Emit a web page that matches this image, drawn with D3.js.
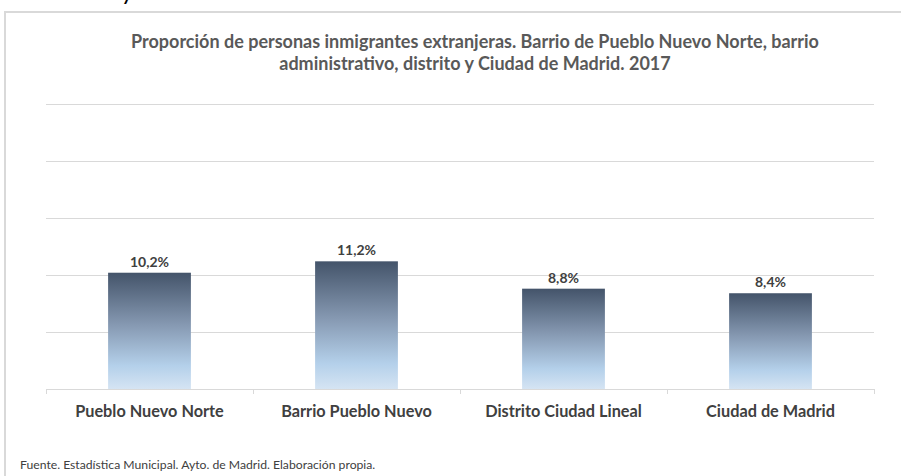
<!DOCTYPE html>
<html>
<head>
<meta charset="utf-8">
<script src="https://cdn.jsdelivr.net/npm/d3@7"></script>
<style>
  html, body { margin: 0; padding: 0; background: #fff; }
  svg { display: block; }
</style>
</head>
<body>
<svg id="chart" width="901" height="476"></svg>
<script>
const categories = ["Pueblo Nuevo Norte", "Barrio Pueblo Nuevo", "Distrito Ciudad Lineal", "Ciudad de Madrid"];
const values = [10.2, 11.2, 8.8, 8.4];
const valueLabels = ["10,2%", "11,2%", "8,8%", "8,4%"];
const yTicks = [0, 5, 10, 15, 20, 25];
const titleLines = ["Proporción de personas inmigrantes extranjeras. Barrio de Pueblo Nuevo Norte, barrio",
                    "administrativo, distrito y Ciudad de Madrid. 2017"];
const sourceText = "Fuente. Estadística Municipal. Ayto. de Madrid. Elaboración propia.";
const topClippedText = "ados en mayor tamaño en este barrio";

(function () {
const svg = d3.select("#chart");
const font = "Lato, 'Open Sans', sans-serif";

const pLeft = 46, pRight = 874, pTop = 104, pBottom = 389;
const x = d3.scaleBand().domain(categories).range([pLeft, pRight]).padding(0);
const y = d3.scaleLinear().domain([0, 25]).range([pBottom, pTop]);
const barW = x.bandwidth() * 0.4;

// text of the page above the chart, cut by the window's top edge
svg.append("text").attr("x", 2).attr("y", -0.5).attr("font-family", font)
  .attr("font-size", 24).attr("fill", "#000").text(topClippedText);

// frame
svg.append("rect").attr("x", 5).attr("y", 12).attr("width", 1000).attr("height", 600)
  .attr("fill", "#fff").attr("stroke", "#d9d9d9").attr("stroke-width", 2);

// gradient
const defs = svg.append("defs");
const grad = defs.append("linearGradient").attr("id", "barGrad")
  .attr("x1", 0).attr("y1", 0).attr("x2", 0).attr("y2", 1);
[[0, "#44546a"], [0.45, "#8699b2"], [0.8, "#b4d0ea"], [1, "#d5e4f3"]].forEach(([o, c]) =>
  grad.append("stop").attr("offset", o).attr("stop-color", c));

// gridlines
svg.append("g").selectAll("line").data(yTicks.filter(d => d > 0)).join("line")
  .attr("x1", pLeft).attr("x2", pRight)
  .attr("y1", d => Math.round(y(d)) + 0.5).attr("y2", d => Math.round(y(d)) + 0.5)
  .attr("stroke", "#d9d9d9").attr("stroke-width", 1);

// bars
svg.append("g").selectAll("rect").data(values).join("rect")
  .attr("x", (d, i) => x(categories[i]) + (x.bandwidth() - barW) / 2)
  .attr("y", d => y(d))
  .attr("width", barW)
  .attr("height", d => y(0) - y(d))
  .attr("fill", "url(#barGrad)");

// x axis
const xAxis = d3.axisBottom(x).tickSize(0).tickFormat("");
const ax = svg.append("g").attr("transform", `translate(0,${pBottom})`).call(xAxis);
ax.select(".domain").attr("stroke", "#d9d9d9");
const bounds = [pLeft].concat(categories.map(c => x(c) + x.bandwidth()));
svg.append("g").selectAll("line").data(bounds).join("line")
  .attr("x1", d => Math.round(d) + 0.5).attr("x2", d => Math.round(d) + 0.5)
  .attr("y1", pBottom).attr("y2", pBottom + 5)
  .attr("stroke", "#d9d9d9");

// category labels
svg.append("g").selectAll("text").data(categories).join("text")
  .attr("x", d => x(d) + x.bandwidth() / 2).attr("y", 417)
  .attr("text-anchor", "middle").attr("font-family", font).attr("font-weight", "bold")
  .attr("font-size", 16.3).attr("fill", "#404040").text(d => d);

// value labels
svg.append("g").selectAll("text").data(values).join("text")
  .attr("x", (d, i) => x(categories[i]) + x.bandwidth() / 2).attr("y", d => y(d) - 6)
  .attr("text-anchor", "middle").attr("font-family", font).attr("font-weight", "bold")
  .attr("font-size", 14).attr("fill", "#404040").text((d, i) => valueLabels[i]);

// title
svg.append("g").selectAll("text").data(titleLines).join("text")
  .attr("x", 475).attr("y", (d, i) => 48 + i * 22)
  .attr("text-anchor", "middle").attr("font-family", font).attr("font-weight", "bold")
  .attr("font-size", 18).attr("fill", "#595959").text(d => d);

// source
svg.append("text").attr("x", 20).attr("y", 469).attr("font-family", font)
  .attr("font-size", 12.2).attr("fill", "#404040").text(sourceText);
})();
</script>
</body>
</html>
